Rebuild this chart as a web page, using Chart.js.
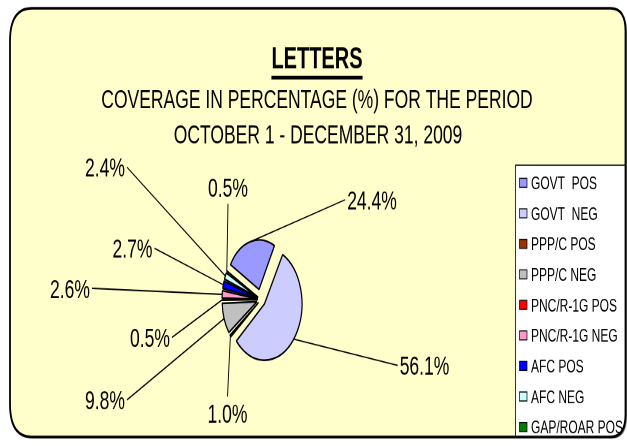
<!DOCTYPE html>
<html>
<head>
<meta charset="utf-8">
<script src="https://cdn.jsdelivr.net/npm/chart.js@4"></script>
<style>
  html, body { margin: 0; padding: 0; background: #fff; overflow: hidden; width: 627px; height: 446px; }
  /* the original picture is stretched vertically, so the whole chart is drawn flat and scaled up */
  #wrap { position: absolute; left: 0; top: 0; width: 627px; height: 297px; transform: scale(1, 1.5017); transform-origin: 0 0; }
</style>
</head>
<body>
<div id="wrap"><canvas id="myChart" width="627" height="297"></canvas></div>
<script>
const categories = ['GOVT  POS', 'GOVT  NEG', 'PPP/C POS', 'PPP/C NEG', 'PNC/R-1G POS', 'PNC/R-1G NEG', 'AFC POS', 'AFC NEG', 'GAP/ROAR POS'];
const coverage = [24.4, 56.1, 1.0, 9.8, 0.5, 2.6, 2.7, 2.4, 0.5];
const sliceColors = ['#9999FF', '#CCCCFF', '#993300', '#C0C0C0', '#FF0000', '#FF99CC', '#0000FF', '#CCFFFF', '#008000'];
const titleText = 'LETTERS';
const subtitleLines = ['COVERAGE IN PERCENTAGE (%) FOR THE PERIOD', 'OCTOBER 1 - DECEMBER 31, 2009'];

// explosion per slice (chart.js divides this by 4 and adds extra for thin slices)
const sliceOffsets = [28, 18, 12.5, 17, 12.5, 13, 13, 13, 12.5];
// where each percentage label sits, relative to the pie centre
const labelOffsets = [[111, -66.5], [163.5, 43.8], [-33.5, 75.8], [-156, 66.8], [-111, 25.2], [-191, -7.5], [-128.5, -34.2], [-156, -88.2], [-33, -75]];

const FONT = '"Liberation Sans", Arial, sans-serif';

// same shift chart.js applies to an arc with an offset
const arcShift = (arc) => {
    const o = (arc.options.offset || 0) / 4;
    const fix = 1 - Math.sin(Math.min(Math.PI, arc.circumference || 0));
    return o + o * fix;
};

const framePath = (ctx) => {
    const x0 = 10, y0 = 5.5, x1 = 625.5, y1 = 291, rl = 22, rr = 15;
    ctx.beginPath();
    ctx.moveTo(x0 + rl, y0);
    ctx.lineTo(x1 - rr, y0);
    ctx.quadraticCurveTo(x1, y0, x1, y0 + rr);
    ctx.lineTo(x1, y1 - rr);
    ctx.quadraticCurveTo(x1, y1, x1 - rr, y1);
    ctx.lineTo(x0 + rl, y1);
    ctx.quadraticCurveTo(x0, y1, x0, y1 - rl);
    ctx.lineTo(x0, y0 + rl);
    ctx.quadraticCurveTo(x0, y0, x0 + rl, y0);
    ctx.closePath();
};

const decor = {
    id: 'decor',
    beforeDraw(chart) {
        const ctx = chart.ctx;
        ctx.save();

        // rounded yellow frame
        framePath(ctx);
        ctx.shadowColor = 'rgba(0,0,0,0.6)';
        ctx.shadowOffsetX = 3;
        ctx.shadowOffsetY = 2;
        ctx.fillStyle = '#FFFFCC';
        ctx.fill();
        ctx.shadowColor = 'transparent';

        // title + underline
        ctx.fillStyle = '#000';
        ctx.textAlign = 'center';
        ctx.textBaseline = 'alphabetic';
        ctx.font = 'bold 20px ' + FONT;
        ctx.fillText(titleText, 317, 45.4);
        const tw = ctx.measureText(titleText).width;
        ctx.fillRect(317 - tw / 2, 50.4, tw, 2.5);

        ctx.font = '17.5px ' + FONT;
        ctx.fillText(subtitleLines[0], 317, 72);
        ctx.fillText(subtitleLines[1], 318, 95.3);

        // legend box, cut by the frame on the right
        ctx.save();
        framePath(ctx);
        ctx.clip();
        ctx.fillStyle = '#FFFFFF';
        ctx.fillRect(515.5, 110, 200, 181);
        ctx.lineWidth = 1;
        ctx.strokeStyle = '#333';
        ctx.strokeRect(515.5, 110, 200, 181);

        ctx.textAlign = 'left';
        ctx.font = '12px ' + FONT;
        categories.forEach((name, i) => {
            const y = 121.7 + i * 20.33;
            ctx.fillStyle = sliceColors[i];
            ctx.fillRect(519.5, y - 3, 7.5, 6);
            ctx.lineWidth = 0.7;
            ctx.strokeStyle = '#000';
            ctx.strokeRect(519.5, y - 3, 7.5, 6);
            ctx.fillStyle = '#000';
            ctx.fillText(name, 531, y + 4.3);
        });
        ctx.restore();

        framePath(ctx);
        ctx.lineWidth = 1.8;
        ctx.strokeStyle = '#000';
        ctx.stroke();
        ctx.restore();
    },
    afterDatasetsDraw(chart) {
        const ctx = chart.ctx;
        const meta = chart.getDatasetMeta(0);
        const values = chart.data.datasets[0].data;
        ctx.save();
        ctx.font = '17.5px ' + FONT;
        ctx.fillStyle = '#000';
        ctx.strokeStyle = '#000';
        ctx.lineWidth = 0.9;
        ctx.textAlign = 'center';
        ctx.textBaseline = 'alphabetic';
        const capH = 12.5;

        meta.data.forEach((arc, i) => {
            const mid = (arc.startAngle + arc.endAngle) / 2;
            const r = arc.outerRadius + arcShift(arc);
            const px = arc.x + Math.cos(mid) * r;
            const py = arc.y + Math.sin(mid) * r;

            const text = values[i].toFixed(1) + '%';
            const cx = arc.x + labelOffsets[i][0];
            const cy = arc.y + labelOffsets[i][1];
            const w = ctx.measureText(text).width;
            const left = cx - w / 2 - 2, right = cx + w / 2 + 2;
            const top = cy - capH / 2 - 5, bottom = cy + capH / 2 + 5;

            let ax, ay;
            if (px < left || px > right) {
                ax = px < left ? left : right;
                ay = cy;
            } else {
                ax = cx;
                ay = py < top ? top : bottom;
            }
            ctx.beginPath();
            ctx.moveTo(ax, ay);
            ctx.lineTo(px, py);
            ctx.stroke();

            ctx.fillText(text, cx, cy + capH / 2);
        });
        ctx.restore();
    }
};

let ctx = document.getElementById('myChart').getContext('2d');
window.myChart = new Chart(ctx, {
    type: 'pie',
    data: {
        labels: categories,
        datasets: [{
            data: coverage,
            backgroundColor: sliceColors,
            borderColor: '#000',
            borderWidth: 1.2,
            offset: sliceOffsets,
            hoverOffset: 0,
            radius: 33,
            rotation: -60,
        }]
    },
    options: {
        responsive: false,
        devicePixelRatio: 2,
        animation: false,
        events: [],
        layout: {
            padding: { left: 211, right: 316, top: 149.5, bottom: 47.5 }
        },
        plugins: {
            legend: { display: false },
            tooltip: { enabled: false },
            title: { display: false }
        }
    },
    plugins: [decor]
});
</script>
</body>
</html>
